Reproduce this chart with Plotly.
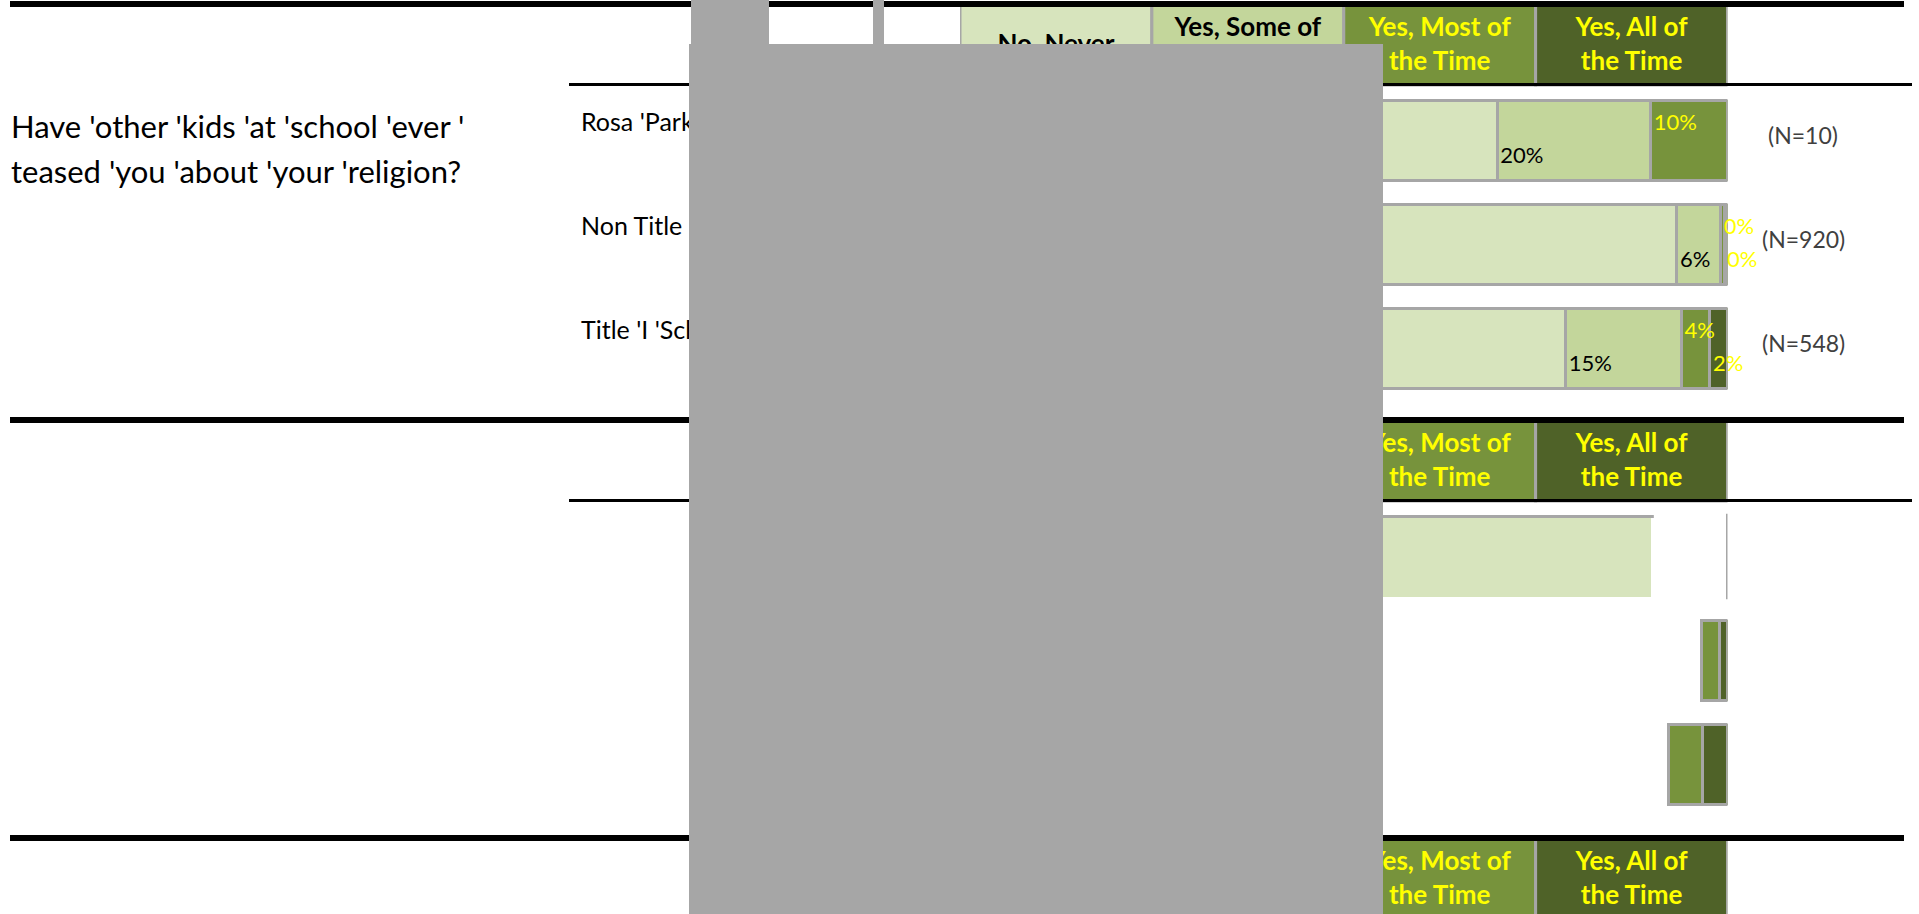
import plotly.graph_objects as go

W, H = 1919, 914

# ---------------- data ----------------
responses = ["No, Never", "Yes, Some of the Time", "Yes, Most of the Time", "Yes, All of the Time"]
header_text = ["No, Never", "Yes, Some of<br>the Time", "Yes, Most of<br>the Time", "Yes, All of<br>the Time"]
seg_colors = ["#d7e4bd", "#c3d69b", "#77933c", "#4f6228"]
header_font_colors = ["#000000", "#000000", "#ffff00", "#ffff00"]
label_colors = ["#000000", "#000000", "#ffff00", "#ffff00"]

question_1_lines = ["Have 'other 'kids 'at 'school 'ever '", "teased 'you 'about 'your 'religion?"]
groups = ["Rosa 'Parks", "Non Title 'I 'Schools", "Title 'I 'Schools"]
group_n = [10, 920, 548]

q1_never = [70.0, 93.4, 78.9]
q1_some = [20.0, 5.7, 15.1]
q1_most = [10.0, 0.45, 3.7]
q1_all = [0.0, 0.45, 2.3]

q2_never = [90.0, None, None]
q2_most = [None, 2.3, 4.5]
q2_all = [None, 1.1, 3.2]

# ---------------- layout helpers (pixels -> paper) ----------------
def px(x):
    return x / W

def py(y):
    return 1 - y / H

GREY = "#a6a6a6"
BAR_W = 0.77
rows = [0, 1, 2]
section_tops = [1, 417, 835]

fig = go.Figure()

# ---- section 1 bars ----
q1 = [q1_never, q1_some, q1_most, q1_all]
for k in range(4):
    fig.add_trace(go.Bar(
        x=q1[k], y=rows, orientation="h", name=responses[k],
        marker=dict(color=seg_colors[k], line=dict(color=GREY, width=3)),
        width=BAR_W, xaxis="x", yaxis="y", hoverinfo="skip", showlegend=False))

# value labels (section 1)
label_offsets = [-0.15, 0.16, -0.15, 0.16]
for k in range(4):
    xs, ys, ts = [], [], []
    for i in rows:
        v = q1[k][i]
        if v and v > 0:
            start = sum(q1[j][i] for j in range(k))
            xs.append(start + 0.4)
            ys.append(i + label_offsets[k])
            ts.append(f"{round(v)}%")
    fig.add_trace(go.Scatter(
        x=xs, y=ys, text=ts, mode="text", textposition="middle right",
        textfont=dict(family="Lato", size=22, color=label_colors[k]),
        xaxis="x", yaxis="y", cliponaxis=False, hoverinfo="skip", showlegend=False))

# ---- section 2 bars (partially drawn) ----
fig.add_trace(go.Bar(
    x=q2_never, y=rows, orientation="h", marker=dict(color=seg_colors[0], line=dict(width=0)),
    width=BAR_W, xaxis="x2", yaxis="y2", hoverinfo="skip", showlegend=False))
base_most = [None if m is None else 100 - m - a for m, a in zip(q2_most, q2_all)]
base_all = [None if a is None else 100 - a for a in q2_all]
fig.add_trace(go.Bar(
    x=q2_most, y=rows, base=base_most, orientation="h",
    marker=dict(color=seg_colors[2], line=dict(color=GREY, width=3)),
    width=BAR_W, xaxis="x2", yaxis="y2", hoverinfo="skip", showlegend=False))
fig.add_trace(go.Bar(
    x=q2_all, y=rows, base=base_all, orientation="h",
    marker=dict(color=seg_colors[3], line=dict(color=GREY, width=3)),
    width=BAR_W, xaxis="x2", yaxis="y2", hoverinfo="skip", showlegend=False))
# edge strokes of the first, unfinished bar
fig.add_trace(go.Scatter(
    x=[0, q2_never[0] + 0.4], y=[-BAR_W / 2, -BAR_W / 2], mode="lines",
    line=dict(color=GREY, width=3), xaxis="x2", yaxis="y2",
    hoverinfo="skip", showlegend=False))
fig.add_trace(go.Scatter(
    x=[100, 100], y=[-0.41, 0.41], mode="lines",
    line=dict(color=GREY, width=3), xaxis="x2", yaxis="y2",
    hoverinfo="skip", showlegend=False))

# ---------------- shapes ----------------
shapes = []
for T in section_tops:
    for k in range(4):
        shapes.append(dict(
            type="rect", xref="x", yref="paper", x0=25 * k, x1=25 * (k + 1),
            y0=py(T + 84), y1=py(T + 4), fillcolor=seg_colors[k],
            line=dict(color=GREY, width=3), layer="above"))
        # header text (label on an invisible rect, slightly raised)
        shapes.append(dict(
            type="rect", xref="x", yref="paper", x0=25 * k, x1=25 * (k + 1),
            y0=py(T + 81), y1=py(T + 3), fillcolor="rgba(0,0,0,0)",
            line=dict(width=0), layer="above",
            label=dict(text="<b>" + header_text[k] + "</b>",
                       font=dict(family="Lato", size=26, color=header_font_colors[k]),
                       textposition="middle center")))
    shapes.append(dict(type="line", xref="paper", yref="paper",
                       x0=px(10), x1=px(1904), y0=py(T + 3), y1=py(T + 3),
                       line=dict(color="#000000", width=6), layer="above"))
    shapes.append(dict(type="line", xref="paper", yref="paper",
                       x0=px(569), x1=px(1912), y0=py(T + 83.5), y1=py(T + 83.5),
                       line=dict(color="#000000", width=3), layer="above"))

# row labels for section 1 (drawn below the grey overlay)
for i in rows:
    shapes.append(dict(
        type="rect", xref="paper", yref="y", x0=px(578), x1=px(1000),
        y0=i - 0.39, y1=i + 0.01, fillcolor="rgba(0,0,0,0)",
        line=dict(width=0), layer="above",
        label=dict(text=groups[i], textposition="middle left", padding=0,
                   font=dict(family="Lato", size=25, color="#000000"))))

# grey overlay
for (x0, x1, y0, y1) in [(689, 1383, 44, 920), (691, 769, -5, 45), (873, 884, -5, 45)]:
    shapes.append(dict(type="rect", xref="paper", yref="paper",
                       x0=px(x0), x1=px(x1), y0=py(y1), y1=py(y0),
                       fillcolor=GREY, line=dict(width=0), layer="above"))

# ---------------- annotations ----------------
annotations = []
for line_text, yc in zip(question_1_lines, [126, 171]):
    annotations.append(dict(
        text=line_text, xref="paper", yref="paper", x=px(9), y=py(yc),
        xanchor="left", yanchor="middle", align="left", showarrow=False,
        font=dict(family="Lato", size=31, color="#000000")))
for i in rows:
    annotations.append(dict(
        text=f"(N={group_n[i]})", xref="paper", yref="y", x=px(1803), y=i - 0.05,
        xanchor="center", yanchor="middle", showarrow=False,
        font=dict(family="Lato", size=23, color="#404040")))

axis_off = dict(visible=False, showgrid=False, zeroline=False, fixedrange=True)
xdom = [px(960), px(1727.5)]
fig.update_layout(
    width=W, height=H, margin=dict(l=0, r=0, t=0, b=0),
    paper_bgcolor="white", plot_bgcolor="rgba(0,0,0,0)",
    barmode="stack", showlegend=False,
    xaxis=dict(domain=xdom, range=[0, 100], anchor="y", **axis_off),
    yaxis=dict(domain=[py(400.5), py(88.5)], range=[2.5, -0.5], anchor="x", **axis_off),
    xaxis2=dict(domain=xdom, range=[0, 100], anchor="y2", **axis_off),
    yaxis2=dict(domain=[py(816.5), py(504.5)], range=[2.5, -0.5], anchor="x2", **axis_off),
    shapes=shapes, annotations=annotations,
)

fig.write_html("out.html", config={"displayModeBar": False},
               post_script="document.body.style.margin='0';document.body.style.overflow='hidden';")
